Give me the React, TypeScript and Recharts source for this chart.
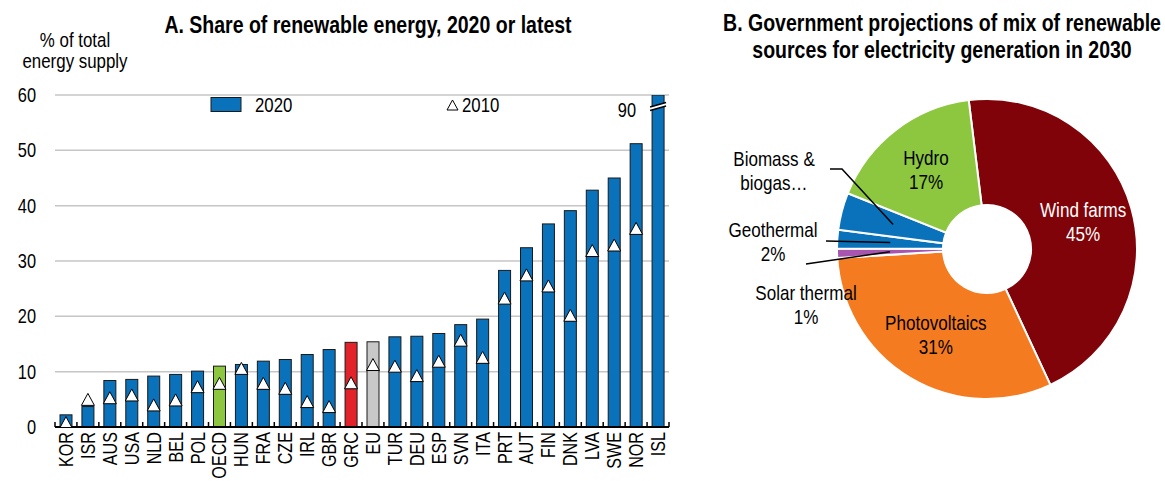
import React from "react";
import { ComposedChart, Bar, Line, XAxis, YAxis, CartesianGrid, Legend, PieChart, Pie, Cell } from "recharts";

// Panel A: share of renewable energy, % of total energy supply
const countries = ["KOR", "ISR", "AUS", "USA", "NLD", "BEL", "POL", "OECD", "HUN", "FRA", "CZE", "IRL", "GBR", "GRC", "EU", "TUR", "DEU", "ESP", "SVN", "ITA", "PRT", "AUT", "FIN", "DNK", "LVA", "SWE", "NOR", "ISL"];
const share2020 = [2.2, 3.7, 8.4, 8.6, 9.2, 9.5, 10.1, 11.0, 11.3, 11.9, 12.2, 13.1, 14.0, 15.3, 15.4, 16.3, 16.4, 16.9, 18.5, 19.5, 28.3, 32.4, 36.7, 39.1, 42.8, 45.0, 51.2, 90];
const share2010 = [0.7, 4.9, 5.2, 5.7, 3.9, 4.8, 7.2, 7.8, 10.5, 7.8, 6.9, 4.5, 3.6, 7.9, 11.2, 10.9, 9.2, 11.8, 15.6, 12.5, 23.2, 27.4, 25.4, 20.1, 31.8, 32.8, 35.8, null];
const yTicks = [0, 10, 20, 30, 40, 50, 60];

// Panel B: projected mix of renewable sources in 2030, %
const mixSources = ["Wind farms", "Photovoltaics", "Solar thermal", "Geothermal", "Biomass & biogas…", "Hydro"];
const mixShares = [45, 31, 1, 2, 4, 17];

// no Arial Narrow installed: squeeze Liberation Sans horizontally instead
const FONT = '"Liberation Sans", Arial, sans-serif';
const NARROW = 0.82;
const BLUE = "#0a72ba";
const highlight: Record<string, string> = { OECD: "#8dc63f", GRC: "#e2232a", EU: "#c8c8c8" };
const mixColors: Record<string, string> = {
  "Wind farms": "#7f0308",
  Photovoltaics: "#f47b20",
  "Solar thermal": "#a855b0",
  Geothermal: "#0a72ba",
  "Biomass & biogas…": "#0a72ba",
  Hydro: "#8dc63f",
};
const Y_MAX = 60;

// small slices get their labels outside, with a leader line (offsets from pie centre)
const outsideLabels: Record<string, { dx: number; dy: number; lines: string[] | null; path: number[][] }> = {
  "Biomass & biogas…": { dx: -213, dy: -78, lines: ["Biomass &", "biogas…"], path: [[-157, -80], [-145, -80]] },
  Geothermal: { dx: -214, dy: -7, lines: null, path: [[-161, -8]] },
  "Solar thermal": { dx: -181, dy: 56, lines: null, path: [[-181, 15]] },
};

const shareData = countries.map((c, i) => ({ country: c, share2020: share2020[i], share2010: share2010[i] }));
const mixData = mixSources.map((s, i) => ({ source: s, share: mixShares[i] }));

function NText(props: any) {
  const { x, y, anchor = "start", size = 20, weight, fill = "#000", rotate, baseline, children } = props;
  const t = `translate(${x},${y})${rotate ? ` rotate(${rotate})` : ""} scale(${NARROW},1)`;
  return (
    <text
      transform={t}
      textAnchor={anchor}
      fontSize={size}
      fontWeight={weight}
      fontFamily={FONT}
      fill={fill}
      dominantBaseline={baseline}
    >
      {children}
    </text>
  );
}

function ShareBar(props: any) {
  const { x, y, width, height, payload, background } = props;
  const fill = highlight[payload.country] ?? BLUE;
  const plotTop = background?.y ?? y;
  const top = Math.max(y, plotTop);
  const bottom = y + height;
  const broken = payload.share2020 > Y_MAX;
  return (
    <g>
      <rect x={x} y={top} width={width} height={bottom - top} fill={fill} stroke="#1a1a1a" strokeWidth={1} />
      {broken && (
        <g>
          <polygon
            points={`${x - 2},${plotTop + 12} ${x + width + 2},${plotTop + 7.5} ${x + width + 2},${plotTop + 11} ${x - 2},${plotTop + 15.5}`}
            fill="#fff"
          />
          <line x1={x - 2} y1={plotTop + 12} x2={x + width + 2} y2={plotTop + 7.5} stroke="#000" strokeWidth={1.3} />
          <line x1={x - 2} y1={plotTop + 15.5} x2={x + width + 2} y2={plotTop + 11} stroke="#000" strokeWidth={1.3} />
          <NText x={x - 16} y={plotTop + 15} anchor="end" baseline="central" size={20}>
            {payload.share2020}
          </NText>
        </g>
      )}
    </g>
  );
}

function TriangleDot(props: any) {
  const { cx, cy, value } = props;
  if (value == null || cx == null || cy == null) return <g />;
  return (
    <polygon
      points={`${cx},${cy - 6.5} ${cx + 6.5},${cy + 5.5} ${cx - 6.5},${cy + 5.5}`}
      fill="#fff"
      stroke="#000"
      strokeWidth={1}
    />
  );
}

function CountryTick(props: any) {
  const { x, y, payload } = props;
  const half = payload.offset || 11;
  const axisY = y - 5;
  const last = payload.value === countries[countries.length - 1];
  return (
    <g>
      <line x1={x - half} x2={x - half} y1={axisY} y2={axisY - 5} stroke="#000" strokeWidth={1.5} />
      {last && <line x1={x + half} x2={x + half} y1={axisY} y2={axisY - 5} stroke="#000" strokeWidth={1.5} />}
      <NText x={x + 7} y={y} rotate={-90} anchor="end" size={19.7}>
        {payload.value}
      </NText>
    </g>
  );
}

function ValueTick(props: any) {
  const { x, y, payload } = props;
  return (
    <NText x={x} y={y} anchor="end" baseline="central" size={20}>
      {payload.value}
    </NText>
  );
}

function ShareLegend() {
  return (
    <svg width={690} height={22} style={{ display: "block" }}>
      <rect x={211} y={2.5} width={30} height={14} fill={BLUE} stroke="#1a1a1a" />
      <NText x={255} y={10} baseline="central" size={20.5}>
        2020
      </NText>
      <polygon points="452.5,5 458,15 447,15" fill="#fff" stroke="#000" />
      <NText x={462} y={10} baseline="central" size={20.5}>
        2010
      </NText>
    </svg>
  );
}

const RAD = Math.PI / 180;

function MixLabel(props: any) {
  const { cx, cy, midAngle, innerRadius, outerRadius, payload, value } = props;
  const name: string = payload.source;
  const cos = Math.cos(-midAngle * RAD);
  const sin = Math.sin(-midAngle * RAD);
  const ext = outsideLabels[name];
  if (ext) {
    const mid = (innerRadius + outerRadius) / 2;
    const pts = [...ext.path.map(([px, py]) => [cx + px, cy + py]), [cx + mid * cos, cy + mid * sin]];
    const lines = ext.lines ?? [name, `${value}%`];
    return (
      <g>
        <polyline points={pts.map((p) => p.join(",")).join(" ")} fill="none" stroke="#000" strokeWidth={1.5} />
        {lines.map((t, i) => (
          <NText key={i} x={cx + ext.dx} y={cy + ext.dy + (i - 0.5) * 24} anchor="middle" baseline="central" size={20.8}>
            {t}
          </NText>
        ))}
      </g>
    );
  }
  const r = 100;
  const lx = cx + r * cos;
  const ly = cy + r * sin;
  const color = name === "Wind farms" ? "#fff" : "#000";
  return (
    <g>
      {[name, `${value}%`].map((t, i) => (
        <NText key={i} x={lx} y={ly + (i - 0.5) * 24} anchor="middle" baseline="central" size={20.8} fill={color}>
          {t}
        </NText>
      ))}
    </g>
  );
}

export default function App() {
  return (
    <div style={{ position: "absolute", left: 0, top: 0, width: 1165, height: 481, background: "#fff", fontFamily: FONT }}>
      <div style={{ position: "absolute", left: 0, top: 0 }}>
        <ComposedChart width={690} height={481} data={shareData} margin={{ top: 95, right: 21, bottom: 0, left: 0 }}>
          <CartesianGrid vertical={false} stroke="#c6c6c6" strokeWidth={1.5} />
          <XAxis
            dataKey="country"
            interval={0}
            height={54}
            tickSize={0}
            tickMargin={5}
            tickLine={false}
            axisLine={{ stroke: "#000", strokeWidth: 2 }}
            tick={<CountryTick />}
          />
          <YAxis
            domain={[0, Y_MAX]}
            ticks={yTicks}
            allowDataOverflow
            width={55}
            axisLine={false}
            tickLine={false}
            tickSize={0}
            tickMargin={19}
            tick={<ValueTick />}
          />
          <Legend
            layout="vertical"
            align="center"
            verticalAlign="middle"
            wrapperStyle={{ left: 0, top: 95, width: 690, height: 22 }}
            content={<ShareLegend />}
          />
          <Bar dataKey="share2020" barSize={12} shape={<ShareBar />} isAnimationActive={false} />
          <Line
            dataKey="share2010"
            stroke="none"
            dot={<TriangleDot />}
            activeDot={false}
            legendType="none"
            isAnimationActive={false}
          />
        </ComposedChart>
      </div>
      <div style={{ position: "absolute", left: 695, top: 0 }}>
        <PieChart width={470} height={481} margin={{ top: 0, right: 0, bottom: 0, left: 0 }}>
          <Pie
            data={mixData}
            dataKey="share"
            nameKey="source"
            cx={292}
            cy={249}
            innerRadius={44}
            outerRadius={150}
            startAngle={97}
            endAngle={-263}
            stroke="#fff"
            strokeWidth={2}
            label={MixLabel}
            labelLine={false}
            isAnimationActive={false}
          >
            {mixData.map((d) => (
              <Cell key={d.source} fill={mixColors[d.source]} />
            ))}
          </Pie>
        </PieChart>
      </div>
      <svg width={1165} height={481} style={{ position: "absolute", left: 0, top: 0, pointerEvents: "none" }}>
        <NText x={368} y={33} anchor="middle" size={23.8} weight="bold">
          A. Share of renewable energy, 2020 or latest
        </NText>
        <NText x={75} y={47} anchor="middle" size={20.6}>
          % of total
        </NText>
        <NText x={75} y={68} anchor="middle" size={20.6}>
          energy supply
        </NText>
        <NText x={942} y={31} anchor="middle" size={23.8} weight="bold">
          B. Government projections of mix of renewable
        </NText>
        <NText x={942} y={58} anchor="middle" size={23.8} weight="bold">
          sources for electricity generation in 2030
        </NText>
      </svg>
    </div>
  );
}
